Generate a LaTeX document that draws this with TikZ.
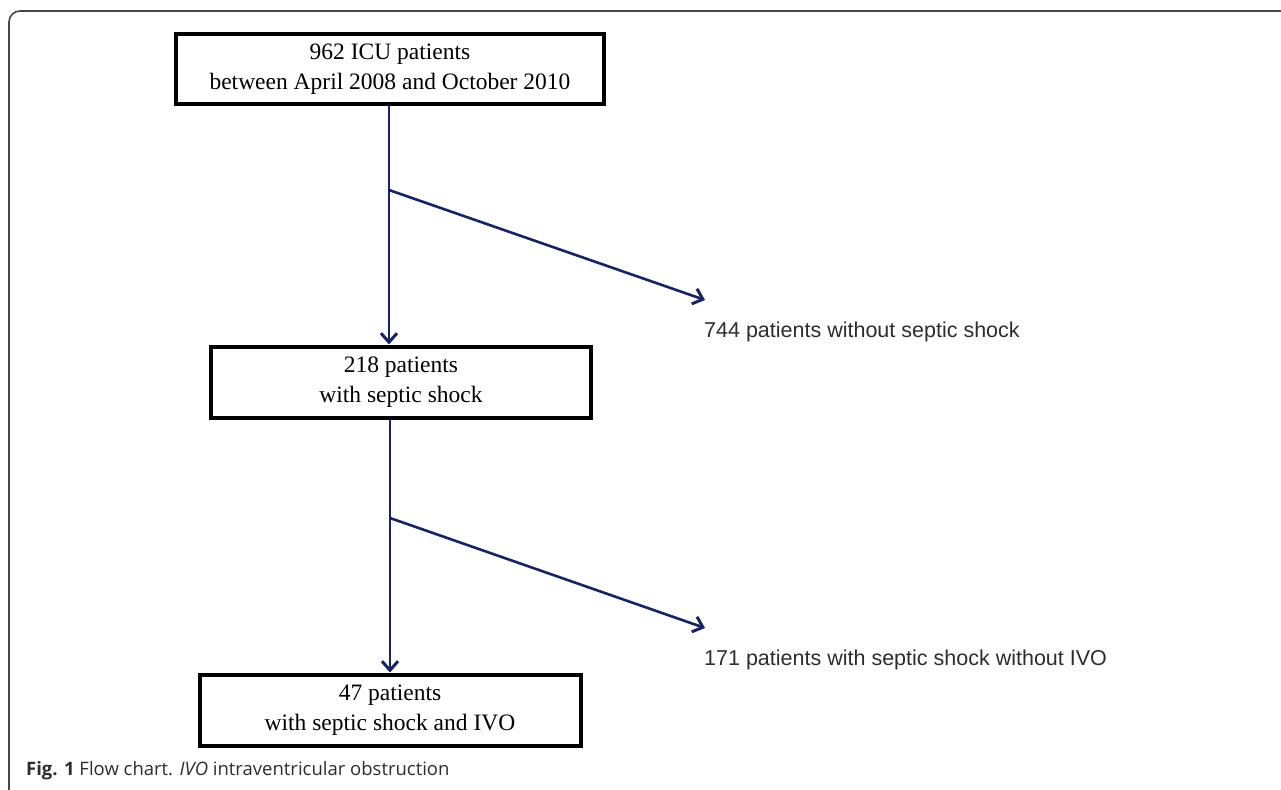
\documentclass[tikz,border=0pt]{standalone}
\usepackage{fontspec}
\usepackage{tikz}
\usetikzlibrary{arrows.meta, positioning}
\usepackage{xcolor}
\newfontfamily\boxfont{Liberation Serif}
\newfontfamily\labelfont{Liberation Sans}
\newfontfamily\capfont{Open Sans}
\definecolor{flowblue}{RGB}{22,36,100}
\definecolor{framegray}{RGB}{70,70,70}
\definecolor{labelgray}{RGB}{45,45,45}
\tikzstyle{patientbox} = [rectangle, draw=black, line width=4pt, align=center, inner sep=0pt, font=\boxfont\fontsize{23.5}{30}\selectfont]
\tikzstyle{outlabel} = [anchor=north west, inner sep=0pt, text=labelgray, font=\labelfont\fontsize{21.5}{26}\selectfont]
\tikzstyle{flow} = [draw=flowblue, line width=2.6pt, -{Straight Barb[length=9pt, width=16pt, line width=3pt]}]

\begin{document}
\begin{tikzpicture}[x=1pt, y=-1pt]
\useasboundingbox (0,0) rectangle (1281,789);

% Frame
\draw [framegray, line width=1.6pt, rounded corners=11pt] (9,795) |- (1290,11);

% Boxes
\node (all) [patientbox, minimum width=428pt, minimum height=70pt] at (390,69) {962 ICU patients\\between April 2008 and October 2010};
\node (shock) [patientbox, minimum width=380pt, minimum height=71pt] at (401,382) {218 patients\\with septic shock};
\node (ivo) [patientbox, minimum width=381pt, minimum height=71pt] at (390,710) {47 patients\\with septic shock and IVO};

% Excluded patients
\node (noshock) [outlabel] at (704,322) {744 patients without septic shock};
\node (noivo) [outlabel] at (704,650) {171 patients with septic shock without IVO};
\coordinate (split1) at (389,190);
\coordinate (split2) at (390,518);
\coordinate (end1) at (705,300);
\coordinate (end2) at (705,628);

% Flows
\draw [flow] (all.south -| split1) -- (split1 |- shock.north);
\draw [flow] (split1) -- (end1);
\draw [flow] (split2 |- shock.south) -- (split2 |- ivo.north);
\draw [flow] (split2) -- (end2);

% Caption
\node (caption) [anchor=base west, inner sep=0pt, font=\capfont\fontsize{18.5}{22}\selectfont, text=labelgray] at (26,775) {\textbf{Fig. 1} Flow chart. \textit{IVO} intraventricular obstruction};

\end{tikzpicture}
\end{document}
